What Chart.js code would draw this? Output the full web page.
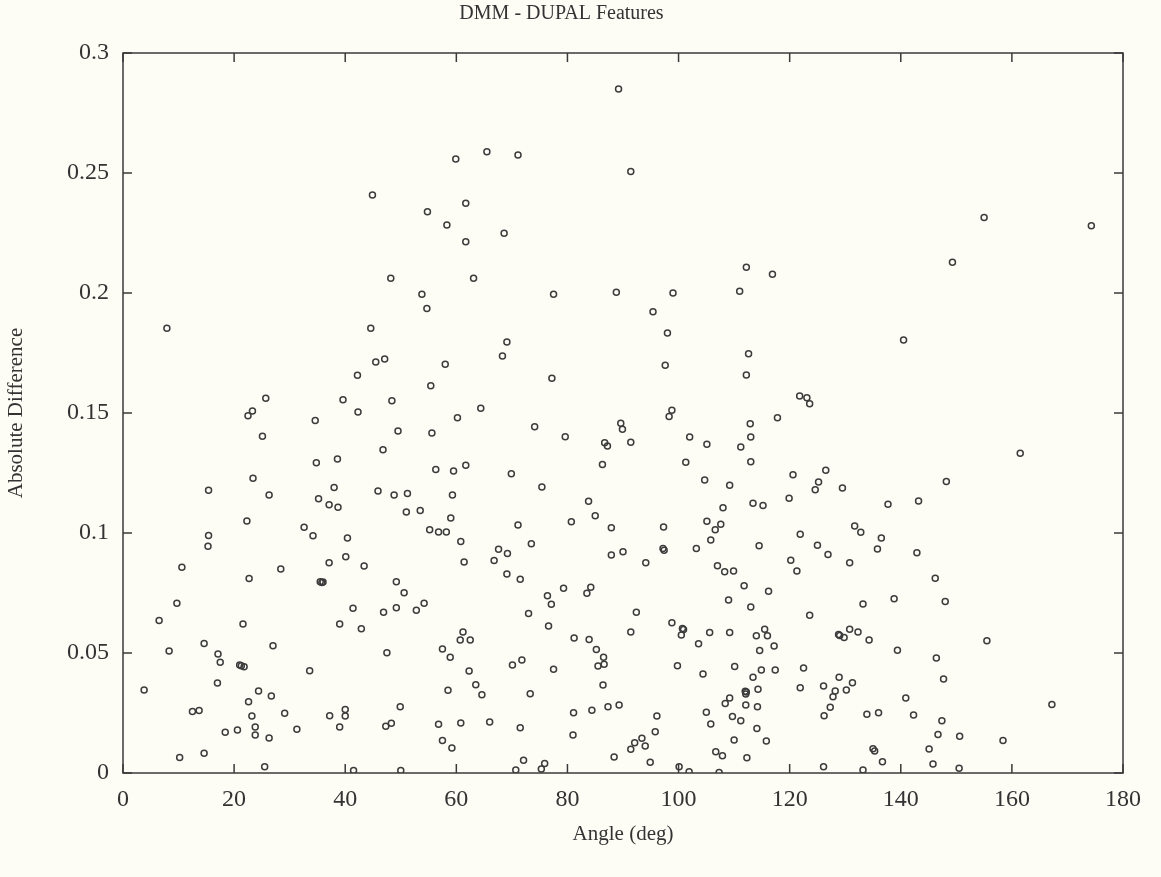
<!DOCTYPE html>
<html>
<head>
<meta charset="utf-8">
<script src="https://cdn.jsdelivr.net/npm/chart.js@4.4.1/dist/chart.umd.min.js"></script>
<style>
  html, body { margin: 0; padding: 0; background: #fdfdf6; }
  #wrap { width: 1161px; height: 877px; }
</style>
</head>
<body>
<div id="wrap"><canvas id="c" width="1161" height="877"></canvas></div>
<script>
// ---- data ----
const chartTitle = 'DMM - DUPAL Features';
const xTitle = 'Angle (deg)';
const yTitle = 'Absolute Difference';
const xTickLabels = ['0', '20', '40', '60', '80', '100', '120', '140', '160', '180'];
const yTickLabels = ['0', '0.05', '0.1', '0.15', '0.2', '0.25', '0.3'];

const angle = [
  44.9,89.2,59.9,65.5,71.1,61.7,54.8,58.3,61.7,68.6,48.2,63.1,53.8,77.5,88.8,
  91.4,112.2,116.9,99.0,111.0,155.0,149.3,174.3,
  7.9,44.6,42.2,25.7,39.6,23.3,22.5,42.3,34.6,25.1,34.8,38.6,23.4,15.4,26.3,38.0,35.2,37.1,38.7,22.3,32.6,34.2,40.4,15.4,15.3,
  54.7,45.5,47.1,69.1,68.3,58.0,77.2,55.4,48.4,64.4,60.2,74.1,79.6,89.6,89.9,86.7,87.2,49.5,55.6,46.8,86.3,56.3,59.5,61.7,69.9,75.4,
  45.9,48.8,51.2,59.3,83.8,51.0,53.5,59.0,80.7,85.0,87.9,71.1,55.2,56.8,58.2,60.8,73.5,67.6,69.2,87.9,90.0,
  95.4,98.0,97.6,112.6,112.2,121.8,123.1,123.6,98.8,98.3,91.4,117.8,112.9,113.0,111.2,102.0,105.1,101.3,113.0,104.7,109.2,120.6,
  126.5,125.2,124.6,129.5,119.9,113.4,115.2,108.0,105.1,107.6,106.6,105.8,97.3,97.2,97.4,103.2,114.5,121.9,125.0,131.7,132.8,
  140.5,161.5,148.2,137.7,143.2,136.5,135.8,142.9,
  40.1,37.1,43.4,10.6,22.7,28.4,35.5,35.8,36.0,9.7,6.5,21.6,41.4,39.0,42.9,14.6,8.3,27.0,17.1,17.5,21.0,21.3,21.8,33.6,3.8,17.0,
  24.4,26.7,22.6,12.5,13.7,23.2,29.1,37.2,40.0,40.0,39.0,23.8,23.8,31.3,18.4,20.6,26.3,10.2,14.6,25.5,41.5,
  61.4,66.8,69.1,71.5,49.2,50.6,46.9,49.2,52.8,54.2,79.3,76.4,77.1,84.2,83.5,73.0,76.6,47.5,61.2,60.7,62.5,57.5,58.9,81.2,83.9,
  85.2,86.5,85.5,86.6,70.1,71.8,77.5,62.3,63.5,64.6,58.5,73.3,86.4,49.9,47.3,48.3,56.8,60.8,66.0,71.5,81.1,84.4,87.3,89.3,81.0,
  57.5,59.2,72.1,75.9,75.3,70.7,50.0,88.4,
  94.1,107.0,108.3,109.9,120.2,121.3,126.9,130.8,111.8,116.2,109.0,113.0,92.4,133.2,123.6,91.4,98.8,100.7,100.9,100.5,105.6,109.2,
  103.6,114.0,115.5,116.0,117.2,114.6,128.8,129.0,129.8,130.8,132.3,134.3,99.8,110.1,104.4,113.4,114.9,117.4,122.5,121.9,126.1,
  128.9,128.2,127.8,127.3,130.2,131.3,126.2,133.9,112.0,112.2,112.1,114.3,109.2,108.4,112.1,114.2,96.1,95.8,105.0,105.8,109.7,
  111.2,114.1,110.0,115.8,112.3,93.4,92.1,91.4,94.0,94.9,106.7,107.9,100.1,101.9,107.3,126.1,133.2,
  146.2,138.8,148.0,155.5,139.4,146.4,147.7,140.9,167.2,136.0,142.3,147.4,146.7,150.6,158.4,145.1,135.0,135.3,136.7,145.8,150.5
];
const absDiff = [
  0.2408,0.285,0.2558,0.2589,0.2575,0.2374,0.2339,0.2283,0.2214,0.2249,0.2061,0.2061,0.1995,0.1995,0.2003,
  0.2506,0.2107,0.2078,0.2,0.2007,0.2315,0.2128,0.228,
  0.1853,0.1853,0.1657,0.1561,0.1555,0.1508,0.1489,0.1504,0.1469,0.1403,0.1293,0.1308,0.1228,0.1178,0.1158,0.119,0.1143,0.1118,0.1107,0.105,0.1024,0.0989,0.0979,0.099,0.0945,
  0.1935,0.1713,0.1725,0.1796,0.1738,0.1703,0.1645,0.1614,0.1551,0.152,0.148,0.1443,0.1401,0.1457,0.1432,0.1376,0.1363,0.1425,0.1417,0.1347,0.1285,0.1265,0.1258,0.1282,0.1247,0.1192,
  0.1175,0.1158,0.1165,0.1158,0.1132,0.1088,0.1094,0.1063,0.1047,0.1072,0.1022,0.1033,0.1014,0.1004,0.1004,0.0965,0.0955,0.0932,0.0915,0.0908,0.0922,
  0.1922,0.1833,0.1699,0.1747,0.1658,0.1571,0.1564,0.1539,0.1511,0.1485,0.1378,0.148,0.1455,0.14,0.1358,0.14,0.137,0.1295,0.1297,0.1221,0.1199,0.1243,
  0.1261,0.1213,0.118,0.1188,0.1145,0.1124,0.1115,0.1105,0.1049,0.1036,0.1014,0.0971,0.1025,0.0935,0.0928,0.0935,0.0947,0.0995,0.0949,0.1029,0.1003,
  0.1804,0.1332,0.1215,0.112,0.1133,0.0979,0.0933,0.0918,
  0.0901,0.0876,0.0863,0.0857,0.081,0.085,0.0797,0.0794,0.0796,0.0707,0.0635,0.0621,0.0686,0.0621,0.0601,0.054,0.0508,0.053,0.0496,0.0461,0.045,0.0447,0.0443,0.0426,0.0346,0.0375,
  0.0342,0.0321,0.0297,0.0256,0.026,0.0238,0.0249,0.0239,0.0265,0.0238,0.0192,0.0192,0.0158,0.0182,0.017,0.0179,0.0146,0.0065,0.0082,0.0026,0.001,
  0.0879,0.0885,0.0829,0.0807,0.0797,0.0751,0.067,0.0689,0.0678,0.0707,0.077,0.0739,0.0703,0.0774,0.0749,0.0665,0.0613,0.0501,0.0588,0.0554,0.0554,0.0517,0.0482,0.0563,0.0556,
  0.0515,0.0482,0.0446,0.0453,0.045,0.0471,0.0432,0.0425,0.0368,0.0326,0.0345,0.033,0.0367,0.0276,0.0195,0.0207,0.0203,0.0208,0.0213,0.0189,0.0251,0.0261,0.0276,0.0283,0.0158,
  0.0135,0.0104,0.0053,0.004,0.0017,0.0013,0.001,0.0067,
  0.0876,0.0864,0.0839,0.0842,0.0886,0.0842,0.091,0.0876,0.078,0.0757,0.0721,0.0692,0.067,0.0704,0.0657,0.0588,0.0626,0.0602,0.0598,0.0575,0.0585,0.0585,
  0.0539,0.0572,0.0599,0.0572,0.0529,0.051,0.0577,0.0573,0.0565,0.0599,0.0588,0.0554,0.0447,0.0444,0.0413,0.0399,0.0429,0.0429,0.0438,0.0355,0.0363,
  0.0399,0.0342,0.0318,0.0274,0.0346,0.0376,0.0239,0.0245,0.0341,0.0338,0.0329,0.0349,0.0313,0.029,0.0283,0.0276,0.0238,0.0172,0.0253,0.0204,0.0235,
  0.0218,0.0185,0.0138,0.0133,0.0064,0.0145,0.0126,0.0099,0.0112,0.0045,0.0089,0.0072,0.0026,0.0005,0.0002,0.0026,0.0013,
  0.0811,0.0726,0.0715,0.0551,0.0511,0.0479,0.0392,0.0313,0.0285,0.0251,0.0242,0.0218,0.016,0.0153,0.0135,0.01,0.0101,0.0092,0.0047,0.0037,0.002
];

// ---- chart ----
const points = angle.map((a, i) => ({ x: a, y: absDiff[i] }));
const FONT = "'Liberation Serif', 'DejaVu Serif', 'Times New Roman', serif";
const INK = '#333333';

const bgPlugin = {
  id: 'bg',
  beforeDraw(chart) {
    const ctx = chart.ctx;
    ctx.save();
    ctx.fillStyle = '#fdfdf6';
    ctx.fillRect(0, 0, chart.width, chart.height);
    ctx.restore();
  }
};

const boxPlugin = {
  id: 'box',
  afterDatasetsDraw(chart) {
    const { ctx, chartArea: a, scales } = chart;
    ctx.save();
    ctx.strokeStyle = '#3a3a3a';
    ctx.lineWidth = 1.5;
    ctx.strokeRect(a.left, a.top, a.right - a.left, a.bottom - a.top);
    const len = 9;
    ctx.beginPath();
    scales.x.ticks.forEach(t => {
      const px = scales.x.getPixelForValue(t.value);
      ctx.moveTo(px, a.bottom); ctx.lineTo(px, a.bottom - len);
      ctx.moveTo(px, a.top); ctx.lineTo(px, a.top + len);
    });
    scales.y.ticks.forEach(t => {
      const py = scales.y.getPixelForValue(t.value);
      ctx.moveTo(a.left, py); ctx.lineTo(a.left + len, py);
      ctx.moveTo(a.right, py); ctx.lineTo(a.right - len, py);
    });
    ctx.stroke();
    ctx.restore();
  }
};

new Chart(document.getElementById('c'), {
  type: 'scatter',
  data: {
    datasets: [{
      label: yTitle,
      data: points,
      pointStyle: 'circle',
      pointRadius: 3,
      pointBorderWidth: 1.5,
      pointBorderColor: '#3c3c3c',
      pointBackgroundColor: 'rgba(0,0,0,0)',
      showLine: false
    }]
  },
  options: {
    responsive: false,
    devicePixelRatio: 1,
    animation: false,
    layout: { padding: { left: 0, right: 38, top: 0, bottom: 0 } },
    plugins: {
      legend: { display: false },
      tooltip: { enabled: false },
      title: {
        display: true,
        text: chartTitle,
        color: INK,
        font: { family: FONT, size: 20, weight: 'normal' },
        padding: { top: 2, bottom: 27 }
      }
    },
    scales: {
      x: {
        type: 'linear',
        min: 0, max: 180,
        afterFit(scale) { scale.height = 104; },
        ticks: {
          stepSize: 20,
          color: INK,
          padding: 12,
          font: { family: FONT, size: 24 },
          maxRotation: 0,
          callback: (v) => xTickLabels[Math.round(v / 20)] ?? ''
        },
        grid: { display: false, drawTicks: false },
        border: { display: false },
        title: {
          display: true,
          text: xTitle,
          color: INK,
          font: { family: FONT, size: 21 },
          padding: { top: 0, bottom: 30 }
        }
      },
      y: {
        type: 'linear',
        min: 0, max: 0.3,
        afterFit(scale) { scale.width = 123; },
        ticks: {
          stepSize: 0.05,
          color: INK,
          padding: 14,
          font: { family: FONT, size: 24 },
          callback: (v) => yTickLabels[Math.round(v / 0.05)] ?? ''
        },
        grid: { display: false, drawTicks: false },
        border: { display: false },
        title: {
          display: true,
          text: yTitle,
          color: INK,
          font: { family: FONT, size: 21 },
          padding: { top: 4, bottom: 0 }
        }
      }
    }
  },
  plugins: [bgPlugin, boxPlugin]
});
</script>
</body>
</html>
